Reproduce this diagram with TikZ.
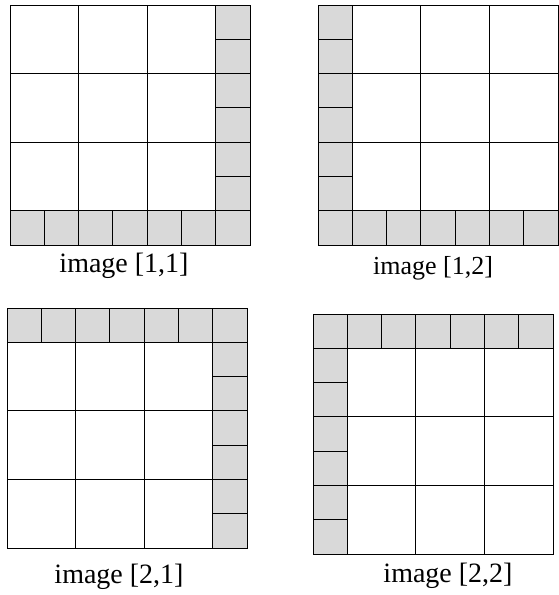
\documentclass[tikz,border=0pt]{standalone}
\usepackage{fontspec}
\setmainfont{Liberation Serif}
\usetikzlibrary{positioning}

\tikzset{
  cell/.style={x=34.29pt, y=-34.29pt},
  strip/.style={fill=gray!30},
  pics/imagegrid/.style 2 args={code={
    \begin{scope}[cell]
      % grey border strip: one column and one row of small cells
      \fill[strip] (#1,0) rectangle ++(1,7);
      \fill[strip] (0,#2) rectangle ++(7,1);
      \foreach \k in {0,...,6} {
        \draw (#1,\k) rectangle ++(1,1);
        \draw (\k,#2) rectangle ++(1,1);
      }
      % 3x3 big cells of the block
      \foreach \i in {0,1,2}
        \foreach \j in {0,1,2}
          \draw ({1-#1/6+2*\i},{1-#2/6+2*\j}) rectangle ++(2,2);
    \end{scope}
  }}
}

\begin{document}
\begin{tikzpicture}[x=1pt, y=-1pt, line width=0.8pt,
  caption/.style={anchor=base, inner sep=0pt, font=\fontsize{28}{30}\selectfont}]

\useasboundingbox (0,0) rectangle (558,595);

% the four images
\pic at (10,5)   {imagegrid={6}{6}};
\pic at (318,5)  {imagegrid={0}{6}};
\pic at (7,308)  {imagegrid={6}{0}};
\pic at (313,314) {imagegrid={0}{0}};

% captions
\node[caption] (cap11) at (124,272) {image [1,1]};
\node[caption, font=\fontsize{26}{28}\selectfont] (cap12) at (433,274) {image [1,2]};
\node[caption] (cap21) at (119,583) {image [2,1]};
\node[caption] (cap22) at (448,582) {image [2,2]};

\end{tikzpicture}
\end{document}
